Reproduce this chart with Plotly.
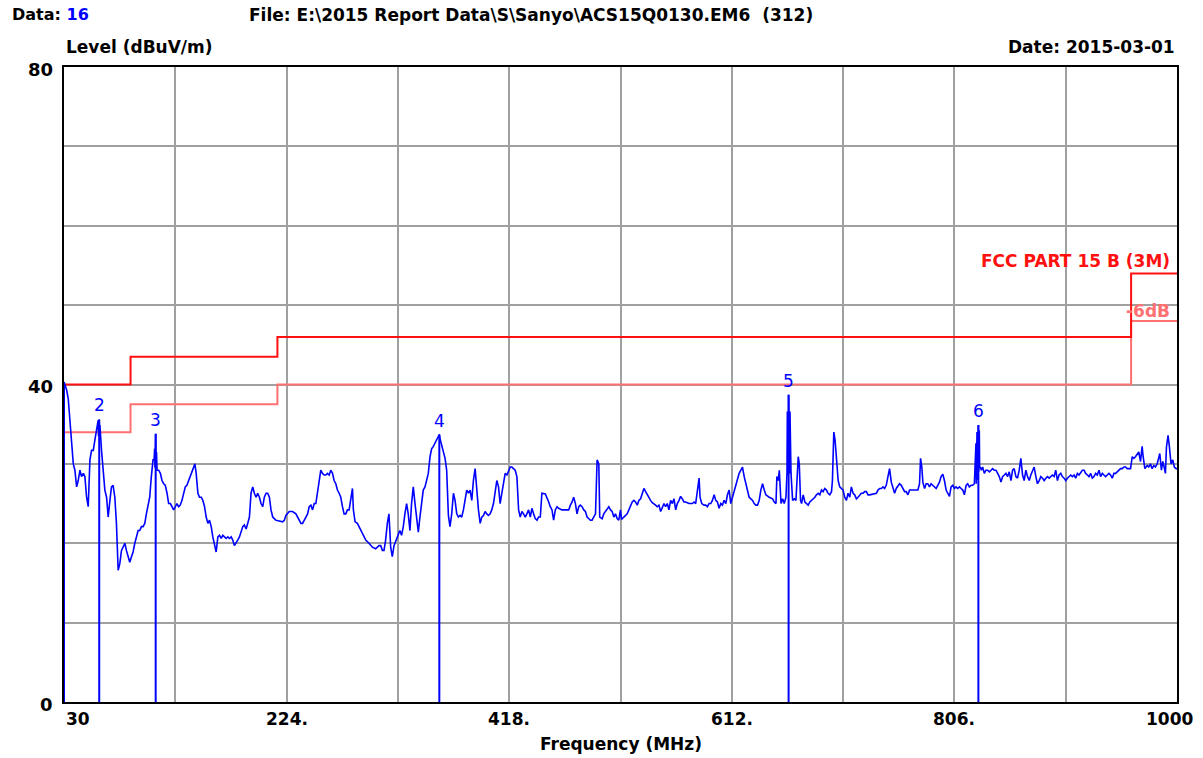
import plotly.graph_objects as go

# ---------------- measured spectrum (peak detector), dBuV/m vs MHz ----------------
low_band_mhz = [
    30.0, 32.3, 33.7, 35.2, 38.1, 39.5, 41.0, 42.4, 43.9, 45.3, 46.8, 48.2, 49.7, 51.1, 52.6,
    54.0, 55.5, 56.9, 58.4, 59.8, 60.1, 60.4, 60.7, 61.0, 61.3, 62.7, 64.2, 65.6, 67.1, 68.5,
    70.0, 71.4, 72.8, 74.3, 75.7, 77.2, 78.6, 80.1, 81.5, 83.0, 84.4, 85.9, 87.3, 88.8, 90.2,
    91.7, 93.1, 94.6, 96.0, 97.5, 98.9, 100.4, 101.8, 103.3, 104.7, 106.1, 107.6, 108.5, 109.0,
    109.3, 109.6, 109.9, 110.2, 110.6, 111.1, 112.5, 114.0, 115.4, 116.9, 118.3, 119.8, 121.2,
    122.7, 124.1, 125.6, 127.0, 128.4, 129.9, 131.3, 132.8, 134.2, 135.7, 137.1, 138.6, 140.0,
    141.5, 142.9, 144.1, 145.2, 146.7, 148.1, 149.6, 151.0, 152.5, 153.9, 155.4, 156.8, 158.3,
    159.7, 161.2, 162.6, 164.1, 165.5, 167.0, 168.4, 169.9, 171.3, 172.8, 174.2, 175.7, 177.1,
    178.5, 180.0, 181.4, 182.9, 184.3, 185.8, 187.2, 188.7, 190.1, 191.6, 193.0, 194.5, 195.9,
    197.4, 198.8, 200.3, 201.7, 203.2, 204.6, 206.1, 207.5, 209.0, 210.4, 211.9, 213.3, 214.7,
    217.6, 220.5, 222.0, 223.4, 226.3, 229.2, 232.1, 233.6, 235.0, 236.5, 237.9, 239.4, 240.8,
    242.3, 243.7, 245.2, 246.6, 248.1, 249.5, 251.0, 252.4, 253.8, 255.3, 256.7, 258.2, 259.6,
    261.1, 262.5, 264.0, 265.4, 266.9, 268.3, 269.8, 271.2, 272.7, 274.1, 275.6, 277.0, 278.5,
    279.9, 281.4, 282.2, 283.7, 285.7, 287.1, 288.6, 290.0, 291.5, 293.0, 295.8, 298.8, 301.6,
    304.5, 306.0, 307.5, 308.9, 310.3, 311.8, 313.2, 314.7, 316.1, 317.6, 319.0,
]
low_band_dbuv = [
    40.3, 39.3, 38.2, 35.5, 30.0, 29.2, 27.1, 27.9, 29.2, 28.4, 28.8, 28.4, 25.8, 24.6, 30.5,
    31.7, 31.7, 33.0, 34.2, 35.5, 33.5, 35.2, 35.6, 33.0, 34.9, 31.7, 29.2, 26.7, 25.8, 23.3,
    25.4, 27.1, 27.3, 25.8, 22.5, 16.6, 17.4, 19.1, 19.5, 20.0, 19.1, 18.3, 17.6, 18.3, 18.9,
    20.0, 20.8, 21.6, 21.6, 22.1, 22.1, 22.5, 23.7, 25.0, 25.8, 28.4, 30.5, 30.5, 31.9,
    29.5, 32.5, 33.8, 29.8, 31.5, 29.2, 29.2, 28.8, 27.9, 27.5, 27.3, 26.3, 25.0,
    25.0, 24.6, 24.2, 24.6, 25.0, 24.6, 24.8, 25.4, 26.3, 27.1, 27.3, 27.9, 28.4,
    29.2, 29.6, 30.0, 28.8, 26.3, 25.8, 25.8, 25.4, 24.6, 23.3, 22.5, 22.9, 22.1,
    20.8, 20.0, 18.9, 20.8, 21.0, 20.6, 21.0, 20.8, 20.6, 20.8, 20.6, 20.8, 20.4,
    19.7, 20.0, 20.4, 20.8, 21.6, 22.1, 22.3, 21.8, 22.5, 23.3, 26.3, 27.1, 26.3,
    25.8, 26.3, 25.8, 25.0, 24.6, 25.8, 26.3, 26.3, 25.8, 24.2, 23.3, 23.1, 22.9,
    22.8, 22.7, 22.9, 23.5, 24.0, 24.0, 23.7, 23.3, 22.9, 22.5, 22.5, 22.9, 23.3,
    23.7, 24.6, 24.8, 24.2, 25.0, 25.0, 26.3, 27.5, 29.2, 28.8, 28.6, 28.6, 28.8,
    28.6, 29.2, 28.8, 27.9, 27.5, 26.7, 26.3, 25.8, 24.6, 23.7, 23.7, 24.2, 24.2,
    25.6, 26.9, 24.2, 22.7, 22.5, 22.1, 21.6, 21.2, 20.8, 20.4, 20.0, 19.5, 19.3,
    19.7, 19.7, 19.1, 19.1, 20.4, 22.5, 23.7, 19.5, 18.3, 19.7, 20.2,
]

mid_band_mhz = [
    321.3, 322.7, 324.2, 325.7, 327.1, 328.6, 330.0, 331.5, 332.9, 334.4, 335.9, 337.3, 338.8,
    340.2, 341.7, 343.1, 344.6, 346.0, 347.5, 349.0, 350.4, 351.9, 353.3, 354.8, 356.2, 357.1,
    358.0, 359.2, 360.6, 362.1, 363.5, 365.0, 366.4, 367.9, 369.4, 370.8, 372.3, 373.7, 375.2,
    376.6, 378.1, 379.5, 381.0, 382.5, 383.9, 385.4, 386.8, 388.3, 389.7, 391.2, 392.7, 394.1,
    395.6, 397.0, 398.5, 399.9, 401.4, 402.8, 404.3, 405.8, 407.2, 408.7, 410.1, 411.6, 413.0,
    414.5, 416.0, 417.4, 418.9, 420.3, 421.8, 423.2, 424.7, 426.2, 427.6, 429.1, 430.5, 432.0,
    433.4, 434.9, 436.4, 437.8, 439.3, 440.7, 442.2, 443.6, 445.1, 446.5, 449.5, 450.9, 452.4,
    453.8, 455.3, 456.7, 458.2, 459.7, 461.1, 464.0, 466.9, 469.9, 471.3, 472.8, 474.2, 475.7,
    477.1, 478.6, 480.0, 481.5, 483.0, 484.4, 485.9, 487.3, 488.8, 490.2, 491.7, 493.2, 494.6,
    496.1, 496.9, 499.0, 500.4, 501.9, 503.4, 504.8, 506.3, 507.7, 509.2, 510.6, 512.1, 513.5,
    515.0, 515.9, 517.9, 519.4, 520.8, 522.3, 523.7, 525.2, 526.7, 528.1, 529.6, 531.0, 532.5,
    533.9, 535.4, 536.9, 538.3, 539.8, 541.2, 542.7, 544.1, 545.6, 547.0, 548.5, 550.0, 551.4,
    552.9, 554.3, 555.8, 557.2, 558.7, 560.2, 561.6, 563.1, 564.5, 566.0, 567.4, 568.9, 570.3,
    571.8, 574.7, 577.6, 579.1, 580.5, 582.0, 583.5, 584.3, 585.8, 587.8, 589.3, 590.7, 592.2,
    593.7, 595.1, 596.6, 598.0, 599.5, 600.9, 602.4, 603.8, 605.3, 606.8, 608.2, 609.7, 611.1,
    612.6, 614.0, 615.5, 617.0, 618.4, 619.9, 621.3, 622.8, 624.2, 625.7, 627.1, 628.6, 630.1,
    631.5, 633.0, 634.4, 635.9, 637.3, 638.8, 640.3, 641.7, 644.6, 647.5, 649.0, 650.5, 651.3,
    652.5, 653.4, 654.9, 656.3, 657.7, 659.2, 660.1, 660.4, 660.7, 661.0, 661.3, 661.5, 661.8,
    662.1, 662.4, 662.7, 663.0, 663.6,
]
mid_band_dbuv = [
    21.2, 21.6, 21.0, 22.1, 23.7, 25.0, 23.7, 21.6, 25.0, 27.1, 25.0, 23.3, 21.4,
    23.3, 25.0, 26.7, 27.1, 27.9, 28.8, 30.9, 31.9, 32.2, 32.6, 33.0, 33.6, 33.7,
    33.0, 32.4, 31.7, 30.7, 29.2, 23.5, 22.1, 23.7, 26.3, 25.4, 23.7, 23.3, 23.5,
    23.3, 24.2, 25.4, 26.7, 26.3, 26.7, 25.4, 27.9, 29.4, 26.7, 24.2, 22.5, 23.3,
    23.5, 24.0, 23.7, 23.5, 23.7, 24.2, 25.0, 26.3, 27.9, 27.1, 25.0, 26.3, 27.3,
    28.8, 28.6, 29.2, 29.6, 29.6, 29.4, 29.2, 28.4, 24.2, 23.3, 24.0, 23.7, 23.3,
    23.7, 24.2, 23.3, 24.4, 23.7, 23.1, 22.9, 23.3, 23.3, 26.3, 26.2, 25.8, 25.2,
    24.6, 24.2, 22.9, 24.2, 24.6, 24.4, 24.2, 24.2, 24.2, 24.8, 25.2, 25.8, 25.0,
    23.7, 24.6, 24.8, 24.6, 24.2, 24.0, 23.3, 23.1, 22.9, 22.9, 23.3, 23.7, 30.5,
    30.0, 23.3, 23.1, 23.7, 24.0, 24.4, 24.6, 24.2, 24.0, 23.3, 23.7, 23.1, 22.9,
    24.2, 23.0, 23.3, 23.5, 23.7, 24.2, 24.8, 25.2, 25.4, 25.2, 24.8, 25.4, 25.6,
    26.3, 26.9, 26.5, 26.1, 25.6, 25.4, 25.1, 25.0, 24.8, 24.6, 24.8, 24.0, 24.6,
    25.0, 24.6, 25.0, 24.2, 25.4, 25.0, 25.6, 24.2, 25.0, 25.4, 25.9, 25.6, 25.2,
    25.2, 25.0, 25.0, 25.2, 25.0, 26.7, 28.2, 25.8, 25.0, 24.8, 24.8, 24.6, 25.0,
    25.0, 25.4, 26.1, 25.4, 25.2, 24.4, 25.0, 24.8, 25.4, 25.0, 26.1, 26.7, 25.0,
    25.8, 26.3, 27.1, 27.9, 28.8, 29.2, 29.6, 28.4, 27.5, 26.7, 25.8, 25.6, 25.4,
    25.0, 24.8, 24.8, 25.4, 26.7, 27.5, 26.7, 26.1, 25.8, 25.6, 25.2, 25.0, 28.4,
    27.9, 29.2, 25.0, 25.6, 25.0, 25.8, 28.8, 36.6, 28.6, 36.6, 29.0, 38.7, 29.0,
    36.6, 28.8, 36.6, 29.0, 28.8,
]

high_band_mhz = [
    665.0, 666.5, 667.9, 669.9, 670.8, 671.9, 672.8, 674.2, 675.7, 677.1, 678.6, 680.0, 681.5,
    682.9, 684.4, 685.8, 687.3, 688.7, 690.2, 691.6, 693.0, 694.5, 695.9, 697.4, 698.9, 699.7,
    700.9, 702.0, 703.2, 704.7, 706.1, 707.6, 709.0, 710.4, 711.9, 713.3, 714.8, 716.2, 717.7,
    719.1, 720.6, 722.0, 723.5, 724.9, 726.4, 727.8, 729.3, 730.7, 732.2, 735.1, 738.0, 739.4,
    740.9, 742.3, 743.8, 745.2, 746.6, 748.1, 749.5, 751.0, 752.4, 753.9, 755.3, 756.8, 758.2,
    759.7, 761.1, 762.6, 764.0, 765.5, 766.9, 769.8, 772.7, 774.2, 775.6, 776.5, 777.6, 778.5,
    780.0, 781.4, 782.8, 784.3, 785.7, 787.2, 788.6, 790.1, 791.5, 793.0, 794.4, 795.9, 797.3,
    798.8, 800.2, 801.7, 803.1, 804.6, 806.0, 807.5, 808.9, 810.4, 811.8, 813.3, 814.7, 816.2,
    817.6, 819.0, 820.5, 821.9, 823.4, 824.8, 825.1, 825.4, 825.7, 826.0, 826.3, 826.9, 827.2,
    827.7, 828.0, 828.6, 829.5, 830.6, 832.1, 833.5, 835.0, 836.4, 837.9, 839.3, 840.8, 842.2,
    843.7, 845.1, 846.6, 848.0, 849.5, 850.9, 852.4, 853.8, 855.3, 856.7, 858.1, 859.6, 861.0,
    862.5, 863.9, 865.4, 866.8, 868.3, 869.7, 871.2, 872.6, 874.1, 875.5, 877.0, 878.4, 879.9,
    881.3, 882.8, 884.2, 885.7, 887.1, 888.6, 890.0, 891.4, 892.9, 894.3, 895.8, 897.2, 898.7,
    900.1, 901.6, 903.0, 904.5, 905.9, 907.4, 908.8, 910.3, 911.7, 913.2, 914.6, 916.1, 917.5,
    919.0, 920.4, 921.9, 923.3, 924.8, 926.2, 927.6, 929.1, 930.5, 932.0, 933.4, 934.9, 936.3,
    937.8, 939.2, 940.7, 942.1, 943.6, 945.0, 946.5, 947.9, 949.4, 950.8, 952.3, 953.7, 955.2,
    956.6, 958.1, 959.5, 961.0, 962.4, 963.8, 965.3, 966.7, 968.2, 969.6, 970.5, 972.0, 974.0,
    975.4, 976.9, 978.3, 979.8, 981.2, 982.7, 984.2, 985.0, 986.4, 987.6, 988.8, 989.9, 990.8,
    992.2, 993.4, 994.8, 996.3, 997.7, 999.2, 1000.0,
]
high_band_dbuv = [
    25.4, 25.6, 25.4, 30.9, 30.0, 25.4, 25.0, 26.1, 25.2, 25.0, 24.8, 25.2, 25.4,
    25.6, 25.8, 26.1, 26.3, 26.1, 26.7, 26.5, 26.9, 26.7, 26.3, 26.1, 26.5, 27.9,
    34.0, 33.0, 30.5, 27.9, 27.1, 26.9, 26.7, 25.8, 25.4, 26.3, 25.8, 27.1, 26.3,
    26.1, 25.6, 25.8, 26.1, 26.3, 26.3, 26.5, 26.5, 26.1, 26.1, 26.2, 26.3, 26.7,
    26.9, 26.9, 27.1, 26.9, 27.3, 28.4, 29.4, 27.7, 27.1, 26.3, 26.9, 27.3, 27.5,
    27.3, 26.9, 26.5, 26.5, 26.1, 26.7, 26.7, 26.7, 26.7, 27.5, 30.7, 29.6, 27.7,
    26.9, 27.5, 27.5, 27.1, 27.5, 27.3, 27.1, 26.9, 27.3, 27.7, 28.4, 28.7, 27.9,
    26.7, 26.3, 25.9, 27.1, 27.3, 26.9, 27.1, 26.9, 27.1, 26.9, 26.7, 26.1, 27.3,
    27.5, 27.1, 27.3, 27.3, 27.5, 32.6, 27.5, 33.5, 34.0, 28.0, 34.2, 34.9, 29.0,
    34.2, 29.5, 29.6, 29.2, 29.6, 28.8, 29.2, 29.2, 29.0, 29.2, 29.4, 29.2, 29.2,
    28.8, 28.4, 27.7, 28.4, 28.6, 28.8, 28.4, 29.0, 27.9, 29.2, 29.4, 28.4, 28.2,
    29.2, 30.7, 28.6, 27.9, 29.2, 28.4, 27.9, 28.6, 29.2, 29.6, 28.4, 27.5, 27.9,
    28.4, 28.2, 27.9, 28.2, 28.4, 28.2, 28.4, 28.6, 28.4, 29.2, 27.9, 28.6, 28.8,
    28.4, 28.2, 27.9, 28.2, 28.4, 28.6, 28.4, 28.6, 28.2, 28.8, 28.6, 29.0, 29.2,
    29.2, 28.8, 28.6, 28.4, 28.8, 28.2, 28.4, 28.8, 28.6, 29.2, 28.4, 28.8, 28.6,
    28.4, 28.6, 28.8, 28.6, 28.2, 28.8, 28.8, 29.0, 29.2, 29.4, 29.4, 29.6, 29.6,
    29.4, 29.4, 29.4, 30.9, 30.7, 30.9, 31.3, 31.5, 30.3, 32.2, 30.9, 29.4, 29.8,
    29.6, 30.0, 29.4, 29.8, 29.6, 30.0, 30.9, 31.3, 29.2, 30.3, 29.6, 28.8, 32.1,
    33.6, 32.1, 30.0, 30.5, 29.6, 29.4, 29.4,
]

# ---------------- FCC Part 15 Class B (3 m) limit and -6 dB margin ----------------
limit_mhz = [30, 88, 216, 960, 1000]
limit_dbuv = [40.0, 43.5, 46.0, 54.0, 54.0]
margin_dbuv = [34.0, 37.5, 40.0, 48.0, 48.0]

# ---------------- marked peaks ----------------
marker_ids = ["1", "2", "3", "4", "5", "6"]
marker_mhz = [30.0, 60.7, 109.9, 357.1, 661.5, 826.9]
marker_dbuv = [40.3, 35.6, 33.8, 33.7, 38.7, 34.9]

# ---------------- axes ----------------
x_ticks = [30, 127, 224, 321, 418, 515, 612, 709, 806, 903, 1000]
x_labels = {30: "30", 224: "224.", 418: "418.", 612: "612.", 806: "806.", 1000: "1000"}
y_ticks = [0, 10, 20, 30, 40, 50, 60, 70, 80]
y_labels = {0: "0", 40: "40", 80: "80"}

BLUE = "rgb(0,0,255)"
RED = "rgb(255,16,16)"
PINK = "rgb(255,112,112)"
FONT = "DejaVu Sans"

freq = low_band_mhz + mid_band_mhz + high_band_mhz
level = low_band_dbuv + mid_band_dbuv + high_band_dbuv

fig = go.Figure()

fig.add_trace(go.Scatter(x=limit_mhz, y=margin_dbuv, mode="lines", line_shape="hv",
                         line=dict(color=PINK, width=2), hoverinfo="skip"))
fig.add_trace(go.Scatter(x=limit_mhz, y=limit_dbuv, mode="lines", line_shape="hv",
                         line=dict(color=RED, width=2), hoverinfo="skip"))

fig.add_trace(go.Scatter(x=freq, y=level, mode="lines",
                         line=dict(color=BLUE, width=1.6)))

# vertical marker lines from the floor up to each marked peak
mx, my = [], []
for f, v in zip(marker_mhz, marker_dbuv):
    mx += [f, f, None]
    my += [0, v, None]
fig.add_trace(go.Scatter(x=mx, y=my, mode="lines", line=dict(color=BLUE, width=2),
                         hoverinfo="skip"))

annotations = []
for mid, f, v in zip(marker_ids, marker_mhz, marker_dbuv):
    if mid == "1":
        continue
    annotations.append(dict(x=f, y=v, xref="x", yref="y", text=mid, showarrow=False,
                            yanchor="bottom", yshift=2,
                            font=dict(family=FONT, size=17, color=BLUE)))

for v, t in x_labels.items():
    anchor = "left" if v == x_ticks[0] else "center"
    shift = -8 if v == x_ticks[-1] else 0
    annotations.append(dict(x=v, y=0, xref="x", yref="paper", text=f"<b>{t}</b>",
                            showarrow=False, xanchor=anchor, yanchor="top", yshift=-5,
                            xshift=shift, font=dict(family=FONT, size=17, color="black")))
for v, t in y_labels.items():
    annotations.append(dict(x=0, y=v, xref="paper", yref="y", text=f"<b>{t}</b>",
                            showarrow=False, xanchor="right", yanchor="middle", xshift=-9,
                            yshift=-2, font=dict(family=FONT, size=18, color="black")))

hdr = dict(family=FONT, size=17, color="black")
annotations += [
    dict(x=-0.0485, y=1.082, xref="paper", yref="paper", showarrow=False,
         xanchor="left", yanchor="middle", font=dict(family=FONT, size=16, color="black"),
         text="<b>Data: <span style='color:rgb(0,0,255)'>16</span></b>"),
    dict(x=0.1644, y=1.082, xref="paper", yref="paper", showarrow=False,
         xanchor="left", yanchor="middle", font=hdr,
         text="<b>File: E:\\2015 Report Data\\S\\Sanyo\\ACS15Q0130.EM6&nbsp;&nbsp;(312)</b>"),
    dict(x=0.0, y=1.031, xref="paper", yref="paper", showarrow=False,
         xanchor="left", yanchor="middle", font=hdr, text="<b>Level (dBuV/m)</b>"),
    dict(x=1.0, y=1.031, xref="paper", yref="paper", showarrow=False,
         xanchor="right", yanchor="middle", font=hdr, text="<b>Date: 2015-03-01</b>"),
    dict(x=0.5, y=-0.066, xref="paper", yref="paper", showarrow=False,
         xanchor="center", yanchor="middle", font=hdr, text="<b>Frequency (MHz)</b>"),
    dict(x=0.9955, y=55.6, xref="paper", yref="y", showarrow=False,
         xanchor="right", yanchor="middle",
         font=dict(family=FONT, size=17, color=RED), text="<b>FCC PART 15 B (3M)</b>"),
    dict(x=0.9955, y=49.2, xref="paper", yref="y", showarrow=False,
         xanchor="right", yanchor="middle",
         font=dict(family=FONT, size=17, color=PINK), text="<b>-6dB</b>"),
]

fig.update_layout(
    width=1203, height=758, autosize=False,
    margin=dict(l=64, r=26, t=67, b=56),
    paper_bgcolor="white", plot_bgcolor="white",
    showlegend=False,
    annotations=annotations,
    xaxis=dict(range=[30, 1000], tickvals=x_ticks, showticklabels=False, ticks="",
               showgrid=True, gridcolor="rgb(160,160,160)", gridwidth=2, zeroline=False,
               showline=True, linecolor="black", linewidth=2, mirror=True),
    yaxis=dict(range=[0, 80], tickvals=y_ticks, showticklabels=False, ticks="",
               showgrid=True, gridcolor="rgb(160,160,160)", gridwidth=2, zeroline=False,
               showline=True, linecolor="black", linewidth=2, mirror=True),
)

fig.write_html("out.html")
